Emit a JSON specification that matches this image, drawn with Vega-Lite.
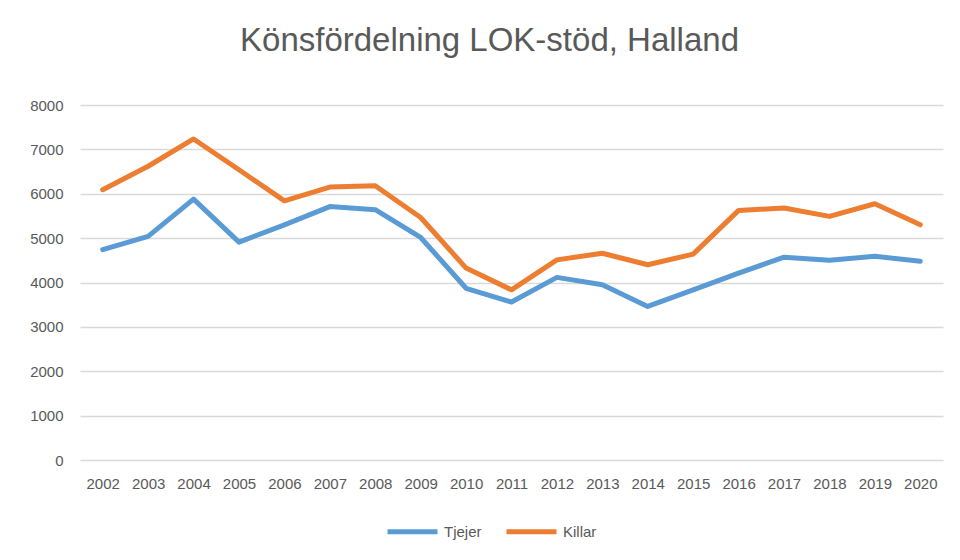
{
  "$schema": "https://vega.github.io/schema/vega-lite/v6.json",
  "width": 863,
  "height": 355,
  "autosize": {"type": "none"},
  "padding": {"left": 80, "top": 105, "right": 17, "bottom": 100},
  "background": "white",
  "title": {
    "text": "Könsfördelning LOK-stöd, Halland",
    "anchor": "middle",
    "fontSize": 33,
    "font": "Liberation Sans",
    "fontWeight": "normal",
    "color": "#595959",
    "offset": 40,
    "dx": -22
  },
  "data": {
    "values": [
      {"year": "2002", "group": "Tjejer", "value": 4740},
      {"year": "2003", "group": "Tjejer", "value": 5040},
      {"year": "2004", "group": "Tjejer", "value": 5880},
      {"year": "2005", "group": "Tjejer", "value": 4910},
      {"year": "2006", "group": "Tjejer", "value": 5300},
      {"year": "2007", "group": "Tjejer", "value": 5710},
      {"year": "2008", "group": "Tjejer", "value": 5640},
      {"year": "2009", "group": "Tjejer", "value": 5015},
      {"year": "2010", "group": "Tjejer", "value": 3870},
      {"year": "2011", "group": "Tjejer", "value": 3560},
      {"year": "2012", "group": "Tjejer", "value": 4115},
      {"year": "2013", "group": "Tjejer", "value": 3950},
      {"year": "2014", "group": "Tjejer", "value": 3460},
      {"year": "2015", "group": "Tjejer", "value": 3835},
      {"year": "2016", "group": "Tjejer", "value": 4210},
      {"year": "2017", "group": "Tjejer", "value": 4570},
      {"year": "2018", "group": "Tjejer", "value": 4500},
      {"year": "2019", "group": "Tjejer", "value": 4590},
      {"year": "2020", "group": "Tjejer", "value": 4480},
      {"year": "2002", "group": "Killar", "value": 6090},
      {"year": "2003", "group": "Killar", "value": 6620},
      {"year": "2004", "group": "Killar", "value": 7235},
      {"year": "2005", "group": "Killar", "value": 6540},
      {"year": "2006", "group": "Killar", "value": 5840},
      {"year": "2007", "group": "Killar", "value": 6150},
      {"year": "2008", "group": "Killar", "value": 6180},
      {"year": "2009", "group": "Killar", "value": 5465},
      {"year": "2010", "group": "Killar", "value": 4325},
      {"year": "2011", "group": "Killar", "value": 3835},
      {"year": "2012", "group": "Killar", "value": 4510},
      {"year": "2013", "group": "Killar", "value": 4660},
      {"year": "2014", "group": "Killar", "value": 4400},
      {"year": "2015", "group": "Killar", "value": 4640},
      {"year": "2016", "group": "Killar", "value": 5625},
      {"year": "2017", "group": "Killar", "value": 5680},
      {"year": "2018", "group": "Killar", "value": 5490},
      {"year": "2019", "group": "Killar", "value": 5775},
      {"year": "2020", "group": "Killar", "value": 5300}
    ]
  },
  "mark": {"type": "line", "strokeWidth": 5, "strokeCap": "round", "strokeJoin": "round"},
  "encoding": {
    "x": {
      "field": "year",
      "type": "ordinal",
      "scale": {"type": "point", "padding": 0.5},
      "axis": {
        "title": null,
        "labelAngle": 0,
        "ticks": false,
        "domain": false,
        "grid": false,
        "labelPadding": 16,
        "labelFontSize": 15,
        "labelFont": "Liberation Sans",
        "labelColor": "#595959"
      }
    },
    "y": {
      "field": "value",
      "type": "quantitative",
      "scale": {"domain": [0, 8000], "nice": false},
      "axis": {
        "title": null,
        "values": [0, 1000, 2000, 3000, 4000, 5000, 6000, 7000, 8000],
        "format": "d",
        "ticks": false,
        "domain": false,
        "grid": true,
        "gridColor": "#d9d9d9",
        "gridWidth": 1.3,
        "labelPadding": 17,
        "labelFontSize": 15,
        "labelFont": "Liberation Sans",
        "labelColor": "#595959"
      }
    },
    "color": {
      "field": "group",
      "type": "nominal",
      "scale": {"domain": ["Tjejer", "Killar"], "range": ["#5b9bd5", "#ed7d31"]},
      "legend": {
        "title": null,
        "orient": "none",
        "direction": "horizontal",
        "legendX": 305,
        "legendY": 399,
        "symbolType": "stroke",
        "symbolSize": 2500,
        "symbolStrokeWidth": 5,
        "labelFontSize": 15,
        "labelFont": "Liberation Sans",
        "labelColor": "#595959",
        "labelOffset": 4,
        "columnPadding": 14
      }
    }
  },
  "config": {"view": {"stroke": null}}
}
